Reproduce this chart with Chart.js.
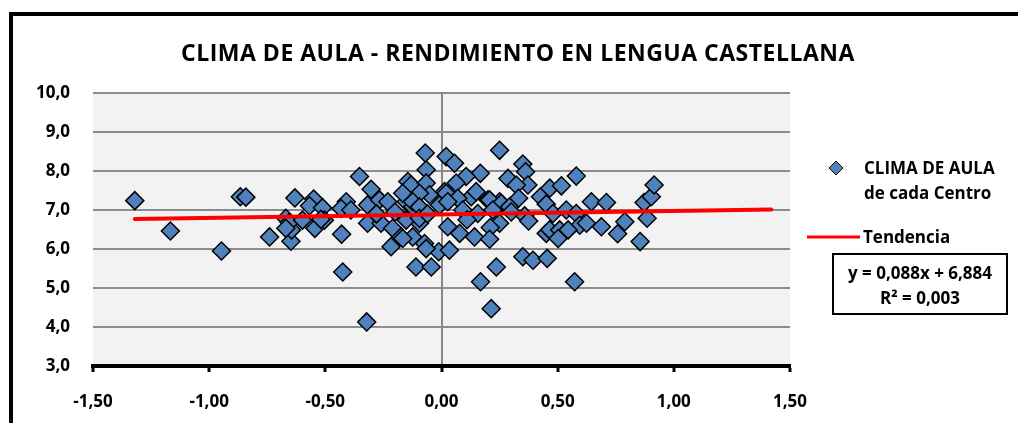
<!DOCTYPE html>
<html>
<head>
<meta charset="utf-8">
<script src="https://cdn.jsdelivr.net/npm/chart.js"></script>
<style>
  html, body { margin: 0; padding: 0; background: #fff; overflow: hidden; }
  #wrap { position: relative; width: 1018px; height: 423px; }
  #frame { position: absolute; left: 9px; top: 12px; width: 1100px; height: 500px; border: 4px solid #000; box-sizing: border-box; }
  #title { position: absolute; left: 9px; width: 1018px; top: 36px; height: 32px; line-height: 32px; text-align: center;
           font: bold 23px "Open Sans", sans-serif; color: #000; letter-spacing: 0.5px; }
  .lg { position: absolute; font: bold 17px "Open Sans", sans-serif; color: #000; line-height: 25px; white-space: nowrap; }
  #eq { position: absolute; left: 832px; top: 253px; width: 176px; height: 62px; border: 2px solid #000;
        box-sizing: border-box; text-align: center; font: bold 17px "Open Sans", sans-serif; line-height: 25px; padding-top: 5px; white-space: nowrap; }
  canvas { position: absolute; left: 0; top: 0; }
</style>
</head>
<body>
<div id="wrap">
  <div id="frame"></div>
  <canvas id="c" width="1018" height="423"></canvas>
  <div id="title">CLIMA DE AULA - RENDIMIENTO EN LENGUA CASTELLANA</div>
  <div class="lg" style="left:864px; top:155px;">CLIMA DE AULA<br>de cada Centro</div>
  <div class="lg" style="left:863px; top:224px;">Tendencia</div>
  <div id="eq">y = 0,088x + 6,884<br>R² = 0,003</div>
</div>
<script>
// clima de aula (x) vs rendimiento lengua castellana (y)
const climaX = [
  -1.32, -1.167, -0.947, -0.866, -0.842, -0.74, -0.631, -0.648, -0.67, -0.645,
  -0.655, -0.67, -0.55, -0.568, -0.512, -0.545, -0.598, -0.504, -0.519, -0.43,
  -0.425, -0.41, -0.432, -0.39, -0.353, -0.303, -0.318, -0.322, -0.318, -0.267,
  -0.231, -0.26, -0.21, -0.174, -0.217, -0.145, -0.131, -0.152, -0.124, -0.124,
  -0.11, -0.044, -0.095, -0.073, -0.066, -0.07, -0.066, -0.052, -0.012, -0.095,
  -0.167, -0.124, -0.095, -0.152, -0.095, -0.167, -0.066, -0.009, 0.02, 0.056,
  0.25, 0.35, 0.362, 0.286, 0.167, 0.106, 0.372, 0.322, 0.063, 0.013,
  0.02, 0.128, 0.149, 0.07, 0.2, 0.25, 0.207, 0.257, 0.332, 0.293,
  0.426, 0.451, 0.027, 0.092, 0.156, 0.221, 0.25, 0.358, 0.375, 0.451,
  0.034, 0.027, 0.078, 0.142, 0.21, 0.207, 0.236, 0.168, 0.214, 0.35,
  0.394, 0.455, 0.58, 0.466, 0.516, 0.48, 0.537, 0.58, 0.645, 0.71,
  0.595, 0.624, 0.688, 0.758, 0.789, 0.855, 0.872, 0.885, 0.903, 0.915,
  0.466, 0.509, 0.502, 0.545, 0.573, -0.2, -0.06, 0.11, 0.3, -0.28
];
const rendimientoY = [
  7.24, 6.46, 5.95, 7.34, 7.33, 6.31, 7.31, 6.20, 6.79, 6.49,
  6.68, 6.53, 7.28, 7.11, 7.06, 6.53, 6.74, 6.74, 6.76, 6.38,
  5.41, 7.21, 7.04, 7.0, 7.86, 7.53, 7.13, 4.13, 6.66, 7.26,
  7.21, 6.66, 6.53, 6.31, 6.06, 7.73, 7.64, 7.21, 7.08, 6.31,
  5.54, 5.54, 6.66, 6.14, 8.03, 8.46, 7.69, 7.39, 5.93, 7.43,
  7.43, 7.21, 7.08, 6.74, 6.79, 6.27, 6.01, 7.13, 8.37, 8.20,
  8.53, 8.18, 7.98, 7.81, 7.94, 7.86, 7.64, 7.64, 7.69, 7.47,
  7.43, 7.34, 7.47, 7.30, 7.26, 7.21, 7.26, 7.17, 7.30, 7.08,
  7.34, 7.15, 7.21, 7.0, 6.91, 7.0, 6.66, 6.85, 6.72, 6.40,
  5.97, 6.57, 6.40, 6.31, 6.55, 6.25, 5.54, 5.16, 4.47, 5.80,
  5.71, 5.76, 7.87, 7.56, 7.62, 6.91, 7.0, 6.91, 7.21, 7.19,
  6.61, 6.66, 6.57, 6.39, 6.70, 6.19, 7.19, 6.79, 7.34, 7.64,
  6.49, 6.49, 6.27, 6.49, 5.16, 6.95, 6.9, 6.75, 6.95, 6.9
];
// trend line end points (y = 0,088x + 6,884)
const trendX = [-1.32, 1.42];
const trendY = [6.77, 7.01];
const xTicks = [-1.5, -1.0, -0.5, 0, 0.5, 1.0, 1.5];
const yTicks = [3, 4, 5, 6, 7, 8, 9, 10];

const points = climaX.map((x, i) => ({ x: x, y: rendimientoY[i] }));
const trend = trendX.map((x, i) => ({ x: x, y: trendY[i] }));
const fmtComma = (v, d) => v.toFixed(d).replace('.', ',');
const tickFont = { family: 'Open Sans, sans-serif', size: 17, weight: 'bold' };

const plotBg = {
  id: 'plotBg',
  beforeDraw(chart) {
    const a = chart.chartArea, ctx = chart.ctx;
    ctx.save();
    ctx.fillStyle = '#f2f2f2';
    ctx.fillRect(a.left, a.top, a.right - a.left, a.bottom - a.top);
    ctx.restore();
  }
};

new Chart(document.getElementById('c'), {
  type: 'scatter',
  data: {
    datasets: [
      {
        label: 'Tendencia',
        type: 'line',
        data: trend,
        borderColor: '#ff0000',
        borderWidth: 4,
        pointRadius: 0,
        borderCapStyle: 'round',
        order: 0
      },
      {
        label: 'CLIMA DE AULA de cada Centro',
        data: points,
        pointStyle: 'rectRot',
        pointRadius: 9,
        pointBackgroundColor: '#4f81bd',
        pointBorderColor: '#000',
        pointBorderWidth: 1.5,
        order: 1
      }
    ]
  },
  options: {
    responsive: false,
    animation: false,
    layout: { padding: { left: 0, top: 93, right: 228, bottom: 0 } },
    plugins: { legend: { display: false }, tooltip: { enabled: false } },
    scales: {
      x: {
        type: 'linear',
        min: -1.5, max: 1.5,
        afterBuildTicks(s) { s.ticks = xTicks.map(v => ({ value: v })); },
        afterFit(s) { s.height = 57; },
        ticks: { color: '#000', font: tickFont, padding: 20, maxRotation: 0,
                 callback: v => fmtComma(v, 2) },
        grid: {
          color: c => (c.tick && c.tick.value === 0) ? '#868686' : 'rgba(0,0,0,0)',
          lineWidth: 2,
          tickColor: '#000',
          tickLength: 6,
          tickWidth: 3,
          drawOnChartArea: true
        },
        border: { display: true, color: '#000', width: 4 }
      },
      y: {
        type: 'linear',
        min: 3, max: 10,
        afterBuildTicks(s) { s.ticks = yTicks.map(v => ({ value: v })); },
        afterFit(s) { s.width = 93; },
        ticks: { color: '#000', font: tickFont, padding: 23,
                 callback: v => fmtComma(v, 1) },
        grid: { color: '#8c8c8c', lineWidth: 2, drawTicks: false },
        border: { display: false }
      }
    }
  },
  plugins: [plotBg, {
    id: 'legendMarks',
    afterDraw(chart) {
      const ctx = chart.ctx;
      ctx.save();
      // diamond marker
      ctx.beginPath();
      ctx.moveTo(836 - 7, 168); ctx.lineTo(836, 161); ctx.lineTo(836 + 7, 168); ctx.lineTo(836, 175);
      ctx.closePath();
      ctx.fillStyle = '#4f81bd'; ctx.fill();
      ctx.lineWidth = 1; ctx.strokeStyle = '#000'; ctx.stroke();
      // red legend line
      ctx.beginPath();
      ctx.moveTo(807, 237); ctx.lineTo(860, 237);
      ctx.lineWidth = 3; ctx.strokeStyle = '#ff0000'; ctx.stroke();
      ctx.restore();
    }
  }]
});
</script>
</body>
</html>
